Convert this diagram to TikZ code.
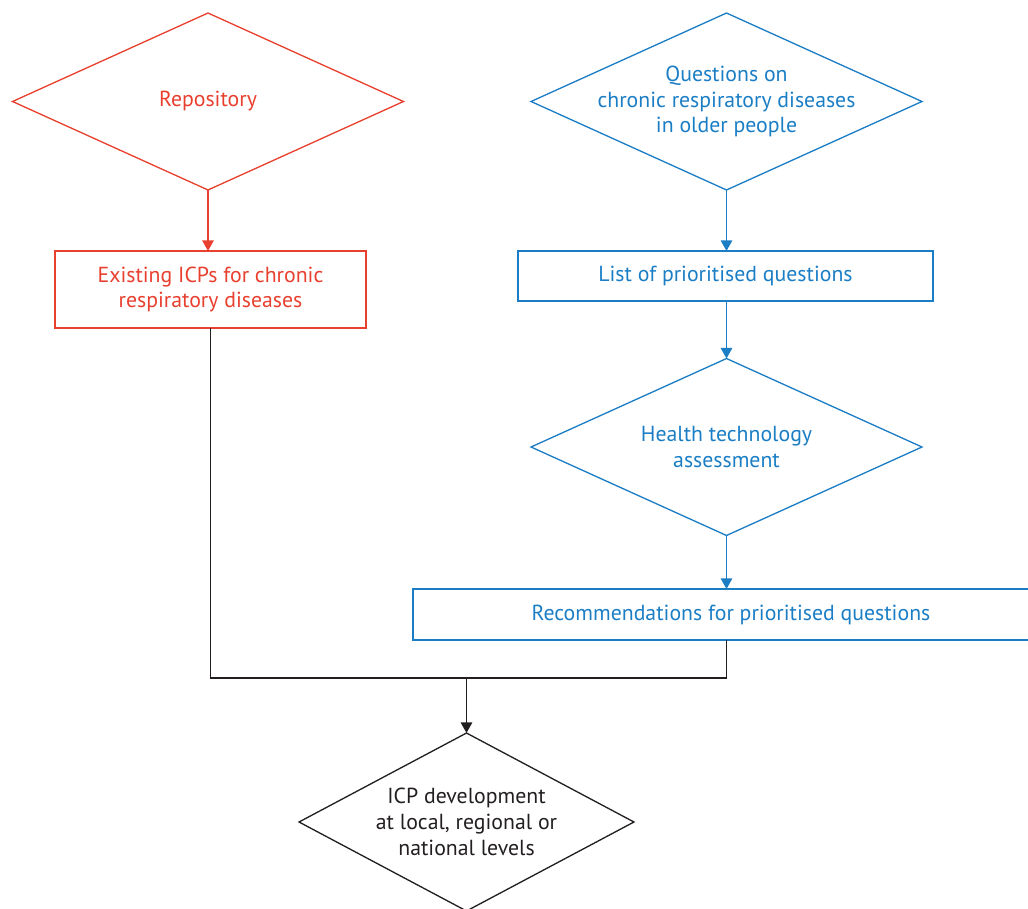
\documentclass[tikz,border=0pt]{standalone}
\usepackage{fontspec}
\setmainfont{PT Sans}
\usepackage{xcolor}
\usetikzlibrary{shapes.geometric,arrows.meta,positioning,calc}
\definecolor{repred}{HTML}{E8402F}
\definecolor{qblue}{HTML}{1B7EC5}
\definecolor{icpgrey}{HTML}{231F20}

\begin{document}
\begin{tikzpicture}[x=0.02cm,y=-0.02cm,
    every node/.style={font=\fontsize{12.4}{14.6}\selectfont, align=center, inner sep=0pt, outer sep=0pt, line width=0.75pt},
    bigdia/.style={draw, diamond, shape aspect=2.2, inner ysep=-7pt, minimum width=7.82cm, minimum height=3.54cm},
    box/.style={draw, rectangle},
    arr/.style={-{Triangle[length=6pt,width=6.5pt]}, line width=0.75pt}]
    \useasboundingbox (0,0) rectangle (1028,909);
    % left branch
    \node [bigdia, repred] (repo) at (208,101.5) {Repository};
    \node [box, repred, minimum width=6.22cm, minimum height=1.54cm] (exist) at (210.5,289.5) {Existing ICPs for chronic\\respiratory diseases};
    % right branch
    \node [bigdia, qblue] (quest) at (726.5,101.5) {Questions on\\chronic respiratory diseases\\in older people};
    \node [box, qblue, minimum width=8.3cm, minimum height=1.0cm] (list) at (725.5,276) {List of prioritised questions};
    \node [bigdia, qblue] (hta) at (726.5,447) {Health technology\\assessment};
    \node [box, qblue, minimum width=12.72cm, minimum height=1.02cm] (recs) at (731,614.5) {Recommendations for prioritised questions};
    % bottom
    \node [bigdia, icpgrey, shape aspect=1.88, minimum width=6.7cm, minimum height=3.56cm] (icp) at (466.5,822) {ICP development\\at local, regional or\\national levels};
    \coordinate (join) at (466.5,678);

    \draw [arr, repred] (repo.south) -- (repo.south |- exist.north);
    \draw [arr, qblue] (quest.south) -- (quest.south |- list.north);
    \draw [arr, qblue] (quest.south |- list.south) -- (hta.north);
    \draw [arr, qblue] (hta.south) -- (hta.south |- recs.north);
    \draw [icpgrey, line width=0.75pt] (exist.south) |- (join) -| (hta.south |- recs.south);
    \draw [arr, icpgrey] (join) -- (icp.north);
\end{tikzpicture}
\end{document}
